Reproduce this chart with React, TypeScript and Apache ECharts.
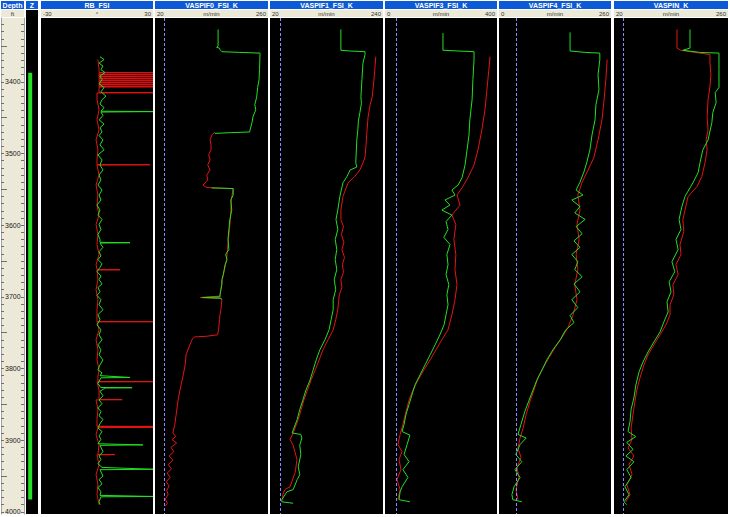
import { useEffect, useRef } from "react";
import * as echarts from "echarts";

// ---------- depth axis ----------
const DEPTH_MIN = 3311;
const DEPTH_MAX = 4003;
const depthLabels = [3400, 3500, 3600, 3700, 3800, 3900, 4000];
const depthTicks: number[] = [];
for (let d = 3320; d <= 4000; d += 10) depthTicks.push(d);
const depthTicks50 = [3350, 3450, 3550, 3650, 3750, 3850, 3950];

// ---------- track headers ----------
const trackNames = ["RB_FSI", "VASPIF0_FSI_K", "VASPIF1_FSI_K", "VASPIF3_FSI_K", "VASPIF4_FSI_K", "VASPIN_K"];
const trackMins = [-30, 20, 20, 0, 0, 20];
const trackMaxs = [30, 260, 240, 400, 260, 260];
const scaleLeftLabels = ["-30", "20", "20", "0", "0", "20"];
const scaleUnits = ["°", "m/min", "m/min", "m/min", "m/min", "m/min"];
const scaleRightLabels = ["30", "260", "240", "400", "260", "260"];
const cutoffValues = [null, 40, 40, 40, 40, 40];

// ---------- Z flag ----------
const zFlag: [number, number][] = [[3397, 0.35], [3983, 0.35]];

// ---------- RB_FSI (depth, value) ----------
const rbGreen: [number, number][] = [
  [3365,1.6],[3369,3.8],[3374,1.1],[3378,3.2],[3383,2.1],[3387,4.3],[3392,1.6],[3397,2.7],[3403,1.1],[3408,3.8],
  [3414,2.1],[3420,4.8],[3425,2.7],[3431,1.6],[3436,3.8],[3441,2.1],[3441.6,30],[3442.2,2.1],[3447,3.2],[3453,1.1],
  [3459,3.8],[3464,1.6],[3470,2.7],[3475,1.1],[3481,3.2],[3488,1.6],[3495,3.8],[3502,0.5],[3509,2.7],[3516,1.6],
  [3523,3.2],[3530,1.1],[3537,2.1],[3544,0.5],[3551,2.7],[3558,1.1],[3565,2.1],[3572,0],[3579,1.6],[3586,0.5],
  [3592,2.7],[3599,1.1],[3606,2.1],[3613,0.5],[3620,1.6],[3624,1.6],[3624.5,17.7],[3625,1.6],[3631,3.2],[3637,1.1],
  [3643,2.1],[3648,0.5],[3654,2.7],[3659,1.6],[3665,0],[3671,2.1],[3676,1.1],[3682,2.7],[3687,0.5],[3693,1.6],
  [3698,0],[3704,2.1],[3711,1.1],[3718,3.2],[3725,0.5],[3732,1.6],[3739,0],[3746,2.1],[3753,1.1],[3760,2.7],
  [3767,0.5],[3774,2.1],[3781,1.1],[3788,3.2],[3795,1.6],[3802,0.5],[3806,2.7],[3810,1.6],[3812.5,17.7],[3813,2.1],
  [3821,0.5],[3826.5,2],[3826.8,18.8],[3827.2,4.3],[3832,1.6],[3838,3.2],[3844,1.1],[3849,2.7],[3855,0.5],[3860,2.1],
  [3866,1.1],[3871,3.2],[3877,1.6],[3883,0.5],[3888,2.7],[3894,1.1],[3899,2.1],[3905,0.5],[3906.6,24.6],[3907.2,1.6],
  [3916,3.2],[3922,1.1],[3927,2.1],[3933,0.5],[3938,2.7],[3940.6,30],[3941.2,1.6],[3950,3.2],[3955,1.1],[3961,2.7],
  [3966,0.5],[3972,2.1],[3977,1.6],[3978.5,30],[3979,2.1],[3986,1.1],[3990,1.6],
];
const rbRed: [number, number][] = [
  [3369,0.5],[3383,1.1],[3387.1,1.1],[3387.4,30],[3387.7,1.1],[3389.9,1.1],[3390.2,30],[3390.5,1.1],[3392.7,1.1],[3393,30],
  [3393.3,1.1],[3395.5,1.1],[3395.8,30],[3396.1,1.1],[3398.3,1.1],[3398.6,30],[3398.9,1.1],[3401.1,1.1],[3401.4,30],[3401.7,1.1],
  [3403.9,1.1],[3404.2,30],[3404.5,1.1],[3406.7,1.1],[3407,30],[3407.3,1.1],[3415,1.1],[3415.3,30],[3415.6,0],[3425,0],
  [3439,1.1],[3453,0],[3467,1.1],[3481,-0.5],[3495,0.5],[3509,0],[3515.5,0],[3515.8,28.4],[3516.2,0],[3530,1.1],
  [3544,-0.5],[3558,0.5],[3572,0],[3586,1.1],[3599,-0.5],[3613,0.5],[3627,0],[3641,1.1],[3655,-0.5],[3662,0],
  [3662.3,12.3],[3662.6,0],[3676,0.5],[3690,-0.5],[3704,0.5],[3718,0],[3734.4,0],[3734.7,30],[3735,0],[3746,1.1],
  [3760,-0.5],[3774,0.5],[3788,0],[3802,1.1],[3811,0.5],[3818.1,0.5],[3818.4,30],[3818.7,0],[3830,1.1],[3843.2,1.1],
  [3843.5,13.5],[3843.8,-0.5],[3857,0.5],[3871,0],[3880.5,0],[3880.8,30],[3881.4,0.5],[3882,30],[3882.6,0.5],[3892,-0.5],
  [3906,1.1],[3919.9,0.5],[3920.2,9.6],[3920.5,0],[3934,1.1],[3948,-0.5],[3962,0.5],[3976,0],[3990,1.1],
];

// ---------- VASPIF0_FSI_K ----------
const vaspif0GreenUpper: [number, number][] = [
  [3327,154],[3350,154],[3352,151],[3353,157],[3355,158],[3358,162],[3359,200],[3360,243],[3362,243],[3383,242],
  [3397,241],[3408,238],[3421,236],[3432,232],[3439,234],[3449,228],[3457,226],[3467,222],[3470,221],[3471,180],[3472,147],
];
const vaspif0GreenMiddle: [number, number][] = [
  [3548,140],[3549,186],[3558,186],[3565,181],[3579,183],[3592,179],[3606,177],[3620,175],[3634,177],[3641,170],
  [3648,173],[3655,169],[3662,167],[3669,165],[3676,162],[3683,162],[3690,160],[3697,158],[3700,158],[3701,120],
  [3702,160],[3704,162],
];
const vaspif0Red: [number, number][] = [
  [3470,147],[3474,141],[3481,137],[3488,139],[3495,139],[3502,134],[3509,137],[3516,132],[3523,137],[3530,130],
  [3537,132],[3544,122],[3547,128],[3548,140],[3549,186],[3565,182],[3592,180],[3620,176],[3648,172],[3676,163],
  [3699,158],[3701,116],[3702,160],[3704,162],[3711,161],[3718,160],[3725,158],[3732,157],[3739,156],[3746,155],
  [3753,153],[3755,130],[3756,104],[3758,100],[3767,94],[3781,86],[3795,84],[3809,80],[3830,73],[3844,69],
  [3864,65],[3878,62],[3890,58],[3895,64],[3899,56],[3904,66],[3910,54],[3916,60],[3922,50],[3928,58],
  [3934,48],[3940,55],[3946,46],[3952,52],[3958,44],[3964,50],[3970,45],[3976,48],[3982,42],[3988,46],[3992,42],
];

// ---------- VASPIF1_FSI_K ----------
const vaspif1Green: [number, number][] = [
  [3327,158],[3356,158],[3357,175],[3358,205],[3362,205],[3374,201],[3397,199],[3421,197],[3430,198],[3443,195],
  [3455,192],[3467,191],[3481,189],[3513,187],[3519,189],[3523,176],[3532,170],[3541,162],[3560,156],[3579,152],
  [3592,148.5],[3606,152],[3620,147],[3634,150],[3648,147],[3662,150],[3676,145],[3690,148],[3704,143],[3718,143],
  [3732,139],[3746,135],[3760,127],[3774,117],[3788,110],[3802,104],[3816,98],[3830,90],[3844,84],[3857,78],
  [3871,73],[3890,63],[3892,80],[3897,82],[3907,78],[3920,80],[3937,75],[3948,78],[3955,73],[3969,65],
  [3972,53],[3983,43],[3986,43],[3988,65],
];
const vaspif1Red: [number, number][] = [
  [3365,226],[3383,224],[3400,222],[3421,219],[3432,215],[3449,211],[3467,209],[3488,207],[3505,205],[3513,201],
  [3523,195],[3532,185],[3541,172],[3560,162],[3579,158],[3592,158],[3602,163],[3613,159],[3624,164],[3634,160],
  [3645,165],[3655,161],[3666,163],[3676,158],[3687,160],[3697,155],[3718,152],[3732,148],[3746,143],[3760,133],
  [3774,123],[3795,112],[3816,100],[3844,86],[3871,75],[3890,65],[3899,59],[3907,65],[3927,72.6],[3945,69],
  [3965,59],[3969,49],[3976,45],[3983,45],
];

// ---------- VASPIF3_FSI_K ----------
const vaspif3Green: [number, number][] = [
  [3332,207],[3356,207],[3357,260],[3358,318],[3369,318],[3397,314],[3425,311],[3453,303],[3474,300],[3495,293],
  [3516,286],[3534,275],[3544,261],[3551,239],[3558,250],[3565,214],[3572,232],[3579,203],[3586,239],[3595,218],
  [3606,225],[3617,210],[3627,232],[3641,221],[3655,225],[3669,218],[3683,228],[3697,221],[3711,225],[3725,218],
  [3739,211],[3753,196],[3767,179],[3781,161],[3795,143],[3809,125],[3823,107],[3837,96],[3850,86],[3864,75],
  [3878,68],[3888,61],[3893,89],[3906,79],[3920,68],[3930,86],[3941,64],[3952,82],[3965,61],[3972,54],
  [3983,50],[3986,89],
];
const vaspif3Red: [number, number][] = [
  [3365,375],[3383,371],[3411,364],[3439,357],[3467,346],[3495,332],[3516,318],[3534,296],[3548,275],[3558,257],
  [3572,268],[3586,239],[3599,253],[3620,246],[3641,253],[3662,250],[3683,257],[3704,250],[3725,239],[3746,225],
  [3760,203],[3774,182],[3788,161],[3802,139],[3816,118],[3830,100],[3844,86],[3860,75],[3878,64],[3892,54],
  [3906,46],[3916,61],[3927,50],[3941,57],[3955,43],[3969,54],[3983,46],
];

// ---------- VASPIF4_FSI_K ----------
const vaspif4Green: [number, number][] = [
  [3331,165],[3357,165],[3359,200],[3360,234],[3369,234],[3390,230],[3411,232],[3432,225],[3453,223],[3474,216],
  [3495,211],[3512,204],[3526,197],[3540,188],[3551,179],[3558,195],[3565,169],[3574,188],[3583,176],[3592,200],
  [3602,179],[3612,193],[3622,174],[3631,188],[3641,169],[3651,183],[3662,176],[3672,193],[3682,174],[3693,188],
  [3704,169],[3715,183],[3726,165],[3736,174],[3746,155],[3760,142],[3774,125],[3788,111],[3802,100],[3816,88],
  [3830,79],[3844,70],[3860,60],[3878,51],[3892,44],[3897,63],[3906,49],[3920,39],[3930,53],[3941,37],
  [3952,49],[3965,35],[3976,30],[3983,32],[3986,53],
];
const vaspif4Red: [number, number][] = [
  [3369,251],[3397,248],[3425,244],[3453,239],[3481,230],[3506,220],[3523,207],[3540,193],[3558,183],[3579,188],
  [3599,181],[3620,186],[3641,179],[3662,183],[3683,176],[3704,181],[3725,172],[3743,160],[3757,146],[3771,130],
  [3785,116],[3799,102],[3813,90.5],[3830,81],[3846,72],[3864,63],[3883,56],[3897,49],[3911,44],[3924,51],
  [3938,42],[3952,46],[3969,39.5],[3983,44],
];

// ---------- VASPIN_K ----------
const vaspinGreen: [number, number][] = [
  [3327,180],[3353,180],[3356,165],[3359,200],[3360,241],[3383,241],[3408,241],[3415,233],[3429,235],[3443,228],
  [3457,226],[3481,218],[3495,207],[3513,201],[3527,197],[3541,186],[3560,169.5],[3574,163],[3592,157],[3606,161],
  [3620,150.5],[3634,155],[3651,142],[3665,148],[3679,136],[3693,140],[3707,131.6],[3721,134],[3735,125],[3749,117],
  [3763,104],[3777,91.6],[3791,81],[3805,72.6],[3823,66],[3841,62],[3857,56],[3874,53.7],[3888,49.5],[3895,66],
  [3903,47],[3913,60],[3922,45],[3930,62],[3941,47],[3952,56],[3965,43],[3976,51.6],[3986,41],[3990,47],
];
const vaspinRed: [number, number][] = [
  [3327,152.6],[3353,152.6],[3356,160],[3362,222],[3374,222],[3390,224],[3407,222],[3425,218],[3449,216],[3467,218],
  [3481,214],[3495,216],[3513,211.6],[3532,205],[3546,195],[3560,176],[3579,169.5],[3592,165],[3609,167],[3627,159],
  [3641,161],[3655,150.5],[3669,155],[3683,144],[3697,146],[3711,138],[3725,138],[3739,129.5],[3753,117],[3767,104],
  [3781,91.6],[3795,83],[3813,74.7],[3830,68],[3846,64],[3864,60],[3883,56],[3899,58],[3911,49.5],[3922,62],
  [3934,51.6],[3948,58],[3962,47],[3976,53.7],[3986,45],
];

const trackGreen = [[rbGreen], [vaspif0GreenUpper, vaspif0GreenMiddle], [vaspif1Green], [vaspif3Green], [vaspif4Green], [vaspinGreen]];
const trackRed = [rbRed, vaspif0Red, vaspif1Red, vaspif3Red, vaspif4Red, vaspinRed];

// ---------- styling / layout ----------
const FONT = '"Liberation Sans", Arial, sans-serif';
const HEADER_BLUE = "#0d5ad6";
const BEIGE = "#ece9d8";
const GREEN = "#22e022";
const RED = "#e41414";
const PLOT_TOP = 18;
const PLOT_H = 496;
const trackLefts = [41, 155, 270, 385, 499, 614];
const trackWidths = [112, 113, 113, 112, 112, 114];

function buildOption(): any {
  const grids: any[] = [];
  const xAxes: any[] = [];
  const yAxes: any[] = [];
  const series: any[] = [];
  const graphic: any[] = [];

  const hiddenY = (gi: number) => ({
    type: "value", gridIndex: gi, min: DEPTH_MIN, max: DEPTH_MAX, inverse: true, show: false,
  });

  // depth grid (0)
  grids.push({ left: 1, top: PLOT_TOP, width: 23, height: PLOT_H, show: true, backgroundColor: BEIGE, borderWidth: 0 });
  xAxes.push({ type: "value", gridIndex: 0, min: 0, max: 1, show: false });
  yAxes.push({
    type: "value", gridIndex: 0, min: DEPTH_MIN, max: DEPTH_MAX, inverse: true, position: "left",
    axisLine: { show: true, lineStyle: { color: "#a0a0a0" } },
    axisTick: { show: true, inside: true, length: 3, customValues: depthTicks, lineStyle: { color: "#707070" } },
    axisLabel: {
      show: true, inside: true, customValues: depthLabels, fontSize: 7, color: "#222", margin: 4, fontFamily: FONT,
      formatter: (v: number) => String(v),
    },
    splitLine: { show: false },
  });
  // Z grid (1)
  grids.push({ left: 26, top: 10, width: 12, height: PLOT_H + 8, show: true, backgroundColor: "#000", borderWidth: 0 });
  xAxes.push({ type: "value", gridIndex: 1, min: 0, max: 1, show: false });
  yAxes.push(hiddenY(1));
  series.push({
    type: "line", xAxisIndex: 1, yAxisIndex: 1, data: zFlag.map(([d, v]) => [v, d]),
    symbol: "none", lineStyle: { color: GREEN, width: 4 }, silent: true,
  });

  // log tracks (2..7)
  trackNames.forEach((name, i) => {
    const gi = i + 2;
    grids.push({ left: trackLefts[i], top: PLOT_TOP, width: trackWidths[i], height: PLOT_H, show: true, backgroundColor: "#000", borderWidth: 0 });
    xAxes.push({ type: "value", gridIndex: gi, min: trackMins[i], max: trackMaxs[i], show: false });
    yAxes.push(hiddenY(gi));
    series.push({
      name: name + " red", type: "line", xAxisIndex: gi, yAxisIndex: gi,
      data: trackRed[i].map(([d, v]) => [v, d]),
      symbol: "none", showSymbol: false, clip: true, silent: true,
      lineStyle: { color: RED, width: 1 },
      markLine: cutoffValues[i] == null ? undefined : {
        silent: true, symbol: "none", label: { show: false },
        lineStyle: { color: "#8a8aff", type: [3, 2], width: 1 },
        data: [{ xAxis: cutoffValues[i] }],
      },
    });
    trackGreen[i].forEach((seg, k) => {
      series.push({
        name: name + " green " + k, type: "line", xAxisIndex: gi, yAxisIndex: gi,
        data: seg.map(([d, v]) => [v, d]),
        symbol: "none", showSymbol: false, clip: true, silent: true,
        lineStyle: { color: GREEN, width: 1 },
      });
    });
  });

  // extra depth-track tick axes
  yAxes.push({
    type: "value", gridIndex: 0, min: DEPTH_MIN, max: DEPTH_MAX, inverse: true, position: "right",
    axisLine: { show: true, lineStyle: { color: "#a0a0a0" } },
    axisTick: { show: true, inside: true, length: 3, customValues: depthTicks, lineStyle: { color: "#707070" } },
    axisLabel: { show: false }, splitLine: { show: false },
  });
  yAxes.push({
    type: "value", gridIndex: 0, min: DEPTH_MIN, max: DEPTH_MAX, inverse: true, position: "left",
    axisLine: { show: false },
    axisTick: { show: true, inside: true, length: 6, customValues: depthTicks50, lineStyle: { color: "#707070" } },
    axisLabel: { show: false }, splitLine: { show: false },
  });

  // headers
  const header = (x: number, w: number, title: string) => {
    graphic.push({ type: "rect", shape: { x, y: 1, width: w, height: 8 }, style: { fill: HEADER_BLUE }, silent: true });
    graphic.push({
      type: "text", x: x + w / 2, y: 5, silent: true,
      style: { text: title, fill: "#ffffff", font: `bold 7px ${FONT}`, textAlign: "center", textVerticalAlign: "middle" },
    });
  };
  const scaleRow = (x: number, w: number, lo: string, mid: string, hi: string) => {
    graphic.push({ type: "rect", shape: { x, y: 10, width: w, height: 7 }, style: { fill: BEIGE }, silent: true });
    const st = (t: string, tx: number, al: string) => ({
      type: "text", x: tx, y: 13.5, silent: true,
      style: { text: t, fill: "#333", font: `6px ${FONT}`, textAlign: al, textVerticalAlign: "middle" },
    });
    if (lo) graphic.push(st(lo, x + 2, "left"));
    if (mid) graphic.push(st(mid, x + w / 2, "center"));
    if (hi) graphic.push(st(hi, x + w - 2, "right"));
  };
  header(1, 23, "Depth");
  scaleRow(1, 23, "", "ft", "");
  header(26, 12, "Z");
  trackNames.forEach((name, i) => {
    header(trackLefts[i], trackWidths[i], name);
    scaleRow(trackLefts[i], trackWidths[i], scaleLeftLabels[i], scaleUnits[i], scaleRightLabels[i]);
  });

  return {
    animation: false,
    backgroundColor: "#ffffff",
    grid: grids,
    xAxis: xAxes,
    yAxis: yAxes,
    series,
    graphic,
  };
}

export default function App() {
  const ref = useRef<HTMLDivElement>(null);
  useEffect(() => {
    const chart = echarts.init(ref.current!, null, { renderer: "svg" });
    chart.setOption(buildOption());
    return () => chart.dispose();
  }, []);
  return <div ref={ref} style={{ position: "fixed", left: 0, top: 0, width: 730, height: 517 }} />;
}
